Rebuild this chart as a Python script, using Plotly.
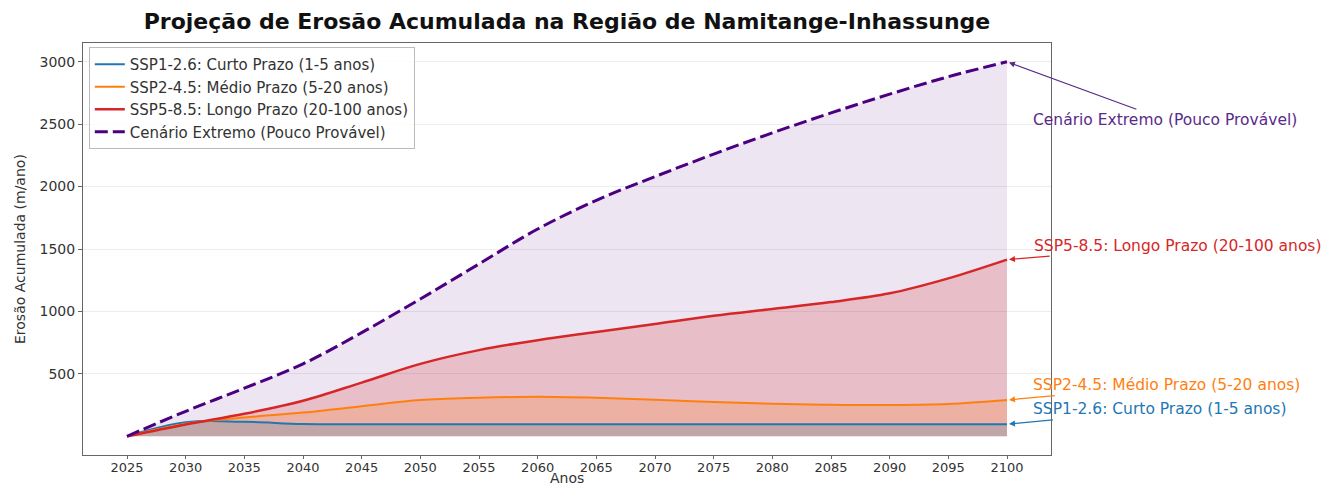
import plotly.graph_objects as go

years = [2025, 2030, 2035, 2040, 2045, 2050, 2055, 2060, 2065, 2070, 2075, 2080, 2085, 2090, 2095, 2100]
ssp126 = [0, 112, 116, 98, 96, 96, 96, 96, 96, 96, 96, 96, 96, 96, 96, 96]
ssp245 = [0, 100, 150, 190, 240, 290, 308, 316, 308, 292, 275, 260, 252, 250, 258, 290]
ssp585 = [0, 95, 180, 285, 430, 580, 690, 770, 835, 900, 965, 1020, 1075, 1145, 1265, 1415]
extreme = [0, 200, 385, 580, 830, 1100, 1380, 1660, 1890, 2080, 2260, 2430, 2590, 2740, 2880, 3000]

names = ["SSP1-2.6: Curto Prazo (1-5 anos)",
         "SSP2-4.5: Médio Prazo (5-20 anos)",
         "SSP5-8.5: Longo Prazo (20-100 anos)",
         "Cenário Extremo (Pouco Provável)"]
title = "Projeção de Erosão Acumulada na Região de Namitange-Inhassunge"
xlabel = "Anos"
ylabel = "Erosão Acumulada (m/ano)"
xticks = list(range(2025, 2101, 5))
yticks = [500, 1000, 1500, 2000, 2500, 3000]

series = [ssp126, ssp245, ssp585, extreme]
colors = ["#1f77b4", "#ff7f0e", "#d62728", "#4b0082"]
textcolors = ["#1f77b4", "#ff7f0e", "#d62728", "#5a2a8a"]
fills = ["rgba(31,119,180,0.2)", "rgba(255,127,14,0.2)", "rgba(214,39,40,0.2)", "rgba(75,0,130,0.1)"]
widths = [2, 2, 2.5, 3]

FONT = "DejaVu Sans"
# the page body has an 8px margin; figure sized to fit the 1337x485 window
W, H = 1329, 477
L, R, T, B = 75, 286, 35, 30
PW, PH = W - L - R, H - T - B

fig = go.Figure()

# fills first (back to front: extreme, red, orange, blue)
for i in [3, 2, 1, 0]:
    fig.add_trace(go.Scatter(x=years, y=series[i], mode="lines", line=dict(width=0, shape="spline", color=colors[i]),
                             fill="tozeroy", fillcolor=fills[i], showlegend=False, hoverinfo="skip"))

for i in range(4):
    fig.add_trace(go.Scatter(x=years, y=series[i], mode="lines", name=names[i],
                             line=dict(width=widths[i], color=colors[i], shape="spline",
                                       dash="13px,5px" if i == 3 else "solid")))

# annotations with arrows (pixel offsets from the end point)
ann = [(3, 158, 58), (2, 171, -14), (1, 159, -15), (0, 153, -15)]
for i, ax, ay in ann:
    fig.add_annotation(x=years[-1], y=series[i][-1], xref="x", yref="y", text=names[i],
                       showarrow=True, ax=ax, ay=ay, arrowhead=2, arrowsize=1, arrowwidth=1.2,
                       arrowcolor=textcolors[i], font=dict(family=FONT, size=15.5, color=textcolors[i]),
                       standoff=2)

# axis titles
fig.add_annotation(text=xlabel, xref="paper", yref="paper", x=0.5, y=-23 / PH, xanchor="center",
                   yanchor="middle", showarrow=False, font=dict(family=FONT, size=14, color="#333"))
fig.add_annotation(text=ylabel, xref="paper", yref="paper", x=-63 / PW, y=0.5, xanchor="center",
                   yanchor="middle", textangle=-90, showarrow=False,
                   font=dict(family=FONT, size=14, color="#333"))

fig.update_layout(
    width=W, height=H,
    margin=dict(l=L, r=R, t=T, b=B),
    paper_bgcolor="white", plot_bgcolor="white",
    font=dict(family=FONT, size=14, color="#333"),
    title=dict(text="<b>" + title + "</b>", x=(L + PW / 2) / W, xanchor="center",
               yref="container", y=1 - 13 / H, yanchor="middle",
               font=dict(family=FONT, size=22, color="#111")),
    legend=dict(x=0.006, y=0.99, xanchor="left", yanchor="top", bgcolor="rgba(255,255,255,0.85)",
                bordercolor="#bbb", borderwidth=1, font=dict(family=FONT, size=15, color="#333"),
                tracegroupgap=0),
    showlegend=True,
)
fig.update_xaxes(range=[2021.25, 2103.75], tickvals=xticks, ticks="outside", ticklen=3, tickcolor="#666",
                 showline=True, linecolor="#666", linewidth=1, mirror=True, showgrid=False, zeroline=False,
                 automargin=False, ticklabelstandoff=-3, tickfont=dict(size=13, color="#333"))
fig.update_yaxes(range=[-150, 3150], tickvals=yticks, ticks="outside", ticklen=4, tickcolor="#666",
                 showline=True, linecolor="#666", linewidth=1, mirror=True, showgrid=True,
                 gridcolor="#ececec", gridwidth=1, zeroline=False,
                 automargin=False, tickfont=dict(size=14, color="#333"))

fig.write_html("out.html")
